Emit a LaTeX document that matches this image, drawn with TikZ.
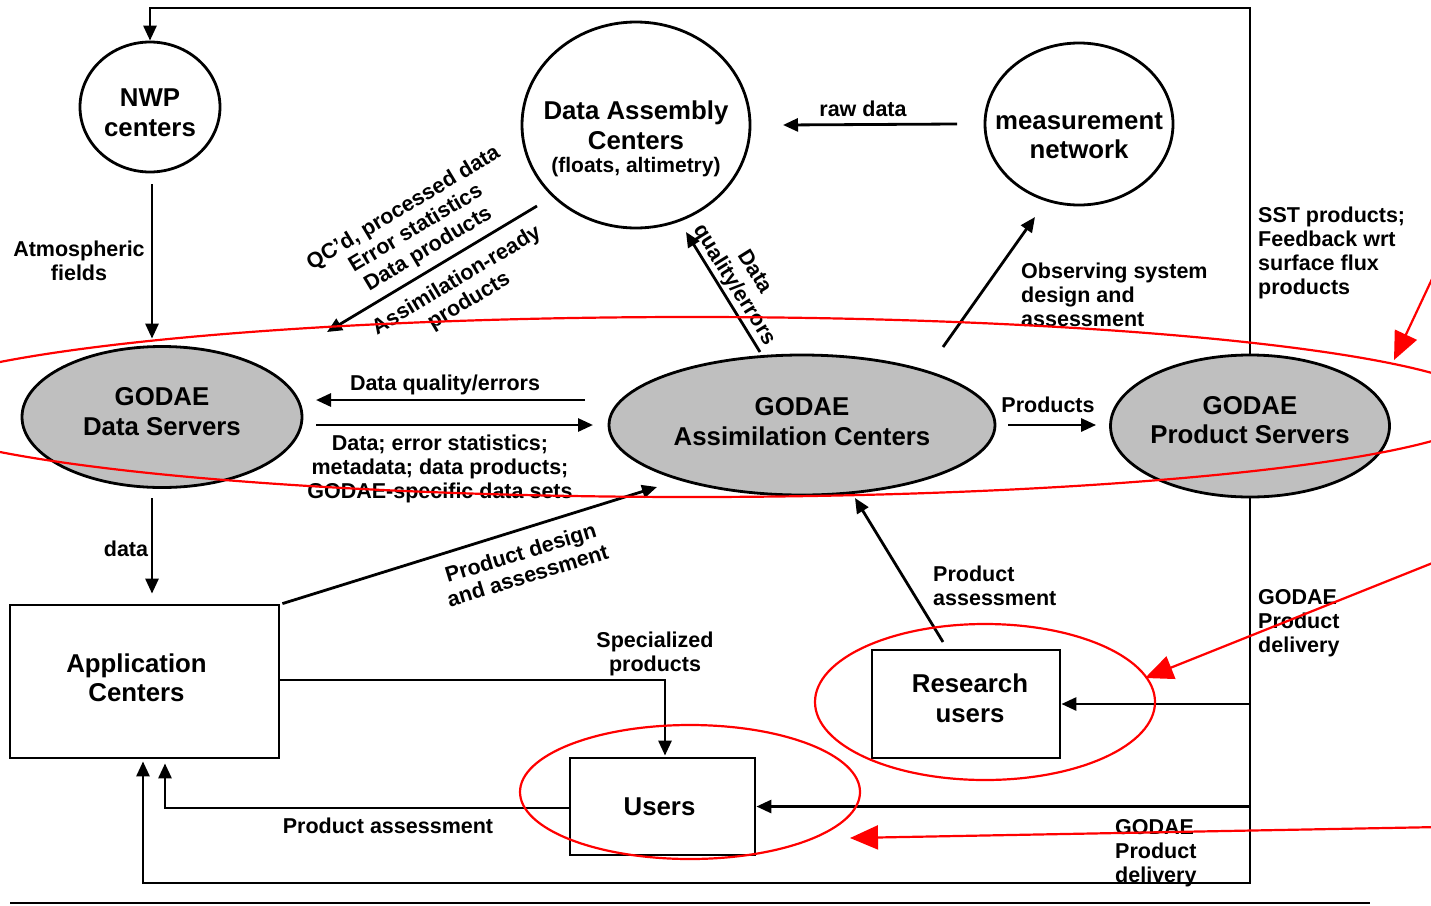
\documentclass[tikz,border=0pt]{standalone}
\usepackage{fontspec}
\setmainfont{Liberation Sans}
\usetikzlibrary{shapes.geometric,arrows.meta,calc}
\begin{document}
\begin{tikzpicture}[x=1pt,y=-1pt,
  big/.style={font=\bfseries\fontsize{25.8}{29.5}\selectfont, align=center},
  lab/.style={font=\bfseries\fontsize{21.5}{24}\selectfont, align=center, inner sep=0pt},
  labl/.style={lab, align=left},
  ell/.style={ellipse, draw, line width=2.8pt, inner sep=0pt},
  gell/.style={ell, fill=gray!50},
  box/.style={rectangle, draw, line width=2.8pt, inner sep=0pt},
  conn/.style={line width=2.8pt, -{Triangle[length=15pt,width=13pt]}},
  redl/.style={red, line width=2.2pt},
  redarr/.style={red, line width=2.2pt, -{Triangle[length=28pt,width=24pt]}},
]
\useasboundingbox (0,0) rectangle (1431,905);
\clip (0,0) rectangle (1431,905);

% nodes
\node[ell, minimum width=140pt, minimum height=130pt,
  label={[big,yshift=-5.5pt]center:{NWP\\centers}}] (nwp) at (150,107) {};
\node[ell, minimum width=228pt, minimum height=206pt,
  label={[big,yshift=-14pt]center:{Data Assembly\\Centers\\[-6pt]{\fontsize{21}{24}\selectfont (floats, altimetry)}}}] (dac) at (636,125) {};
\node[ell, minimum width=188pt, minimum height=162pt,
  label={[big,yshift=-11.5pt]center:{measurement\\network}}] (mn) at (1079,124) {};
\node[gell, minimum width=280pt, minimum height=141pt,
  label={[big,yshift=5.5pt]center:{GODAE\\Data Servers}}] (ds) at (162,417) {};
\node[gell, minimum width=386pt, minimum height=140pt,
  label={[big,yshift=3.5pt]center:{GODAE\\Assimilation Centers}}] (ac) at (802,425) {};
\node[gell, minimum width=279pt, minimum height=142pt,
  label={[big,yshift=6pt]center:{GODAE\\Product Servers}}] (ps) at (1250,426) {};
\node[box, minimum width=269pt, minimum height=153pt,
  label={[big,xshift=-8pt,yshift=3.5pt]center:{Application\\Centers}}] (app) at (144.5,681.5) {};
\node[box, minimum width=188pt, minimum height=108pt,
  label={[big,xshift=4pt,yshift=5.5pt]center:{Research\\users}}] (ru) at (966,704) {};
\node[box, minimum width=185pt, minimum height=97pt,
  label={[big,xshift=-3pt]center:{Users}}] (us) at (662.5,806.5) {};

\coordinate (topy) at (0,8);
\coordinate (boty) at (0,883);

% connectors
\draw[conn] ($(nwp.south)+(2,11)$) -- ($(ds.north)+(-10,-6.5)$);
\draw[conn] ($(ds.south)+(-10,9.5)$) -- ($(app.north)+(7.5,-10)$);
\draw[conn] ($(dac.center)+(-99,81)$) -- ($(ds.center)+(165,-85)$);
\draw[conn] ($(ac.center)+(-42,-73)$) -- ($(dac.center)+(50,107)$);
\draw[conn] ($(mn.center)+(-122,0)$) -- ($(dac.center)+(147,0)$);
\draw[conn] ($(ac.center)+(141,-78)$) -- ($(mn.center)+(-44,93)$);
\draw[conn] ($(ac.center)+(-217,-25)$) -- ($(ds.center)+(154,-17)$);
\draw[conn] ($(ds.center)+(154,8)$) -- ($(ac.center)+(-209,0)$);
\draw[conn] ($(ac.east)+(12,0)$) -- ($(ps.west)+(-13,-1)$);
\draw[conn] ($(app.north east)+(2,0)$) -- ($(ac.center)+(-145,62)$);
\draw[conn] ($(app.east)+(0,-1.5)$) -| ($(us.north)+(2.5,-1)$);
\draw[conn] ($(us.west)+(0,1.5)$) -| ($(app.south)+(20.5,4)$);
\draw[conn] ($(ru.center)+(-23,-62)$) -- ($(ac.center)+(53,73)$);
\draw[conn] (ps.north) -- (ps.north |- topy) -| (nwp.north);
\draw[conn] (ps.south) -- (ps.south |- boty) -| ($(app.south)+(-1.5,2)$);
\draw[conn] (ps.south |- ru.east) -- (ru.east);
\draw[conn] (ps.south |- us.east) -- (us.east);

% bottom rule
\draw[line width=1.4pt] (10,903) -- (1370,903);

% labels
\node[lab] (l1) at (79,261) {Atmospheric\\fields};
\node[lab] (l2) at (126,549) {data};
\node[lab, rotate=31] (l3) at (416,229) {QC'd, processed data\\Error statistics\\Data products};
\node[lab, rotate=31] (l4) at (463,291) {Assimilation-ready\\products};
\node[lab, rotate=-58] (l5) at (744,279) {Data\\quality/errors};
\node[lab] (l6) at (863,109) {raw data};
\node[labl, anchor=west] (l7) at (1021,295) {Observing system\\design and\\assessment};
\node[lab] (l8) at (445,385) {Data quality/errors};
\node[lab] (l9) at (440,469) {Data; error statistics;\\metadata; data products;\\GODAE-specific data sets};
\node[lab] (l10) at (1048,405) {Products};
\node[lab, rotate=17] (l11) at (524,564) {Product design\\and assessment};
\node[lab] (l12) at (655,654) {Specialized\\products};
\node[lab] (l13) at (388,826) {Product assessment};
\node[labl, anchor=west] (l14) at (933,586) {Product\\assessment};
\node[labl, anchor=west] (l15) at (1258,253) {SST products;\\Feedback wrt\\surface flux\\products};
\node[labl, anchor=west] (l16) at (1258,623) {GODAE\\Product\\delivery};
\node[labl, anchor=west] (l17) at (1115,853) {GODAE\\Product\\delivery};

% red annotations
\draw[redl] (692,407) ellipse [x radius=799pt, y radius=90pt];
\draw[redl] (985,702) ellipse [x radius=170pt, y radius=78pt];
\draw[redl] (690,792) ellipse [x radius=170pt, y radius=67pt];
\draw[redarr] (1440,262) -- (1394,360);
\draw[redarr] (1440,560) -- (1145,678);
\draw[redarr] (1440,827) -- (850,838);
\end{tikzpicture}
\end{document}
